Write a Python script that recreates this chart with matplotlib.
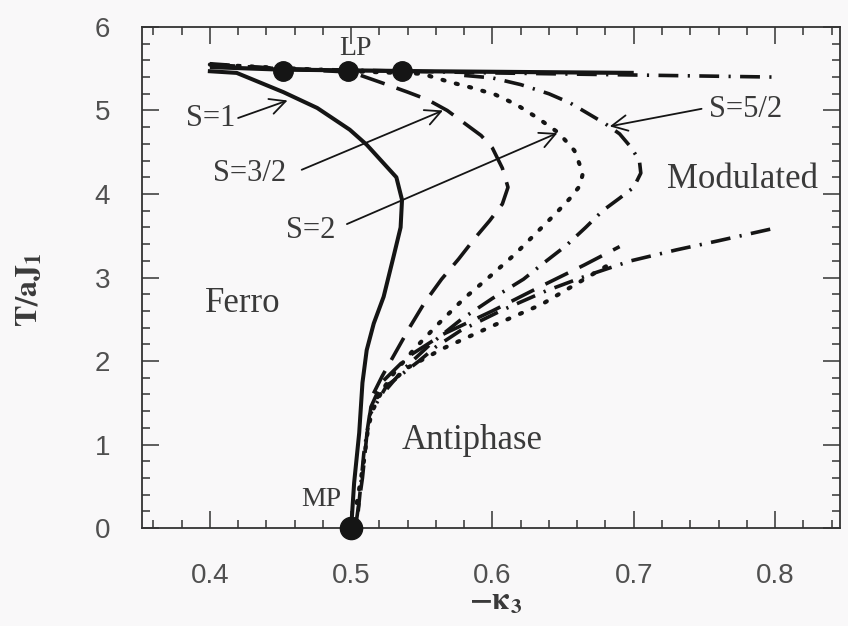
import matplotlib
matplotlib.use("Agg")
import matplotlib.pyplot as plt
from matplotlib.ticker import MultipleLocator

plt.rcParams['mathtext.fontset'] = 'stix'

# phase boundaries, T/aJ1 against -kappa3
s1_x = [0.400, 0.419, 0.452, 0.476, 0.499, 0.511, 0.532, 0.536, 0.535, 0.530,
        0.523, 0.516, 0.511, 0.508, 0.5057, 0.5021, 0.500]
s1_T = [5.47, 5.45, 5.22, 5.03, 4.77, 4.59, 4.20, 3.93, 3.60, 3.25,
        2.77, 2.45, 2.13, 1.74, 1.14, 0.54, 0.0]

top_solid_x = [0.40, 0.45, 0.55, 0.70]
top_solid_T = [5.52, 5.49, 5.47, 5.45]
top_dd_x = [0.40, 0.45, 0.60, 0.80]
top_dd_T = [5.56, 5.50, 5.45, 5.40]

s32_up_x = [0.40, 0.45, 0.50, 0.522, 0.54, 0.554, 0.568, 0.58, 0.592, 0.60, 0.607, 0.611,
            0.607, 0.598, 0.588, 0.576, 0.564, 0.552, 0.542, 0.532, 0.522, 0.514]
s32_up_T = [5.55, 5.5, 5.46, 5.33, 5.22, 5.13, 5.0, 4.85, 4.7, 4.55, 4.31, 4.08,
            3.88, 3.68, 3.48, 3.22, 2.98, 2.7, 2.42, 2.12, 1.82, 1.55]
s32_lo_x = [0.503, 0.508, 0.511, 0.514, 0.522, 0.54, 0.565, 0.60, 0.635, 0.665, 0.69]
s32_lo_T = [0.0, 0.6, 1.1, 1.45, 1.75, 2.05, 2.32, 2.6, 2.9, 3.15, 3.37]

s2_up_x = [0.40, 0.50, 0.55, 0.570, 0.586, 0.602, 0.617, 0.632, 0.647, 0.658, 0.664, 0.662,
           0.655, 0.645, 0.632, 0.616, 0.598, 0.58, 0.562, 0.545, 0.53, 0.518]
s2_up_T = [5.55, 5.47, 5.44, 5.34, 5.27, 5.19, 5.07, 4.91, 4.73, 4.52, 4.25, 4.1,
           3.95, 3.77, 3.55, 3.28, 3.01, 2.75, 2.45, 2.15, 1.85, 1.55]
s2_lo_x = [0.504, 0.509, 0.512, 0.515, 0.522, 0.54, 0.565, 0.60, 0.635, 0.66, 0.685]
s2_lo_T = [0.3, 0.8, 1.2, 1.4, 1.65, 1.92, 2.15, 2.42, 2.68, 2.93, 3.18]

s52_up_x = [0.58, 0.60, 0.62, 0.64, 0.655, 0.668, 0.68, 0.69, 0.698, 0.704, 0.705, 0.70,
            0.69, 0.678, 0.666, 0.652, 0.636, 0.622, 0.60, 0.578, 0.556, 0.537, 0.522]
s52_up_T = [5.42, 5.39, 5.31, 5.2, 5.09, 4.96, 4.84, 4.72, 4.56, 4.4, 4.25, 4.08,
            3.95, 3.8, 3.6, 3.38, 3.17, 2.98, 2.75, 2.5, 2.2, 1.9, 1.6]
s52_lo_x = [0.505, 0.509, 0.513, 0.525, 0.548, 0.56, 0.577, 0.607, 0.638, 0.668,
            0.698, 0.73, 0.76, 0.797]
s52_lo_T = [0.2, 0.9, 1.35, 1.7, 2.0, 2.17, 2.36, 2.61, 2.84, 3.03,
            3.2, 3.33, 3.44, 3.58]

lp_x = [0.452, 0.498, 0.536]
lp_T = [5.47, 5.47, 5.47]
mp_x, mp_T = 0.5, 0.0

# spin labels: text position, arrow tip, arrow tail
spin_labels = ["S=1", "S=3/2", "S=2", "S=5/2"]
label_pos = [(0.4007, 4.90), (0.428, 4.24), (0.4715, 3.56), (0.779, 5.01)]
arrow_tip = [(0.455, 5.12), (0.565, 5.0), (0.646, 4.73), (0.683, 4.81)]
arrow_tail = [(0.420, 4.91), (0.465, 4.29), (0.497, 3.64), (0.748, 5.02)]

phase_names = ["Ferro", "Modulated", "Antiphase"]
phase_pos = [(0.4234, 2.69), (0.777, 4.17), (0.5855, 1.05)]

ink = '#151515'
txt = '#3a3a3a'
bg = '#f9f8f9'

fig = plt.figure(figsize=(8.48, 6.26), dpi=100, facecolor=bg)
ax = fig.add_axes([0.1675, 0.1565, 0.8231, 0.8004], facecolor=bg)

lw = 2.6
long_dash = (0, (7, 3.5))
dots = (0, (0.5, 2.8))
dash_dot = (0, (5.5, 2.6, 0.6, 2.6))

ax.plot(top_dd_x, top_dd_T, color=ink, lw=lw, ls=dash_dot)
ax.plot(top_solid_x, top_solid_T, color=ink, lw=lw + 0.4, solid_capstyle='butt')
ax.plot(s1_x, s1_T, color=ink, lw=lw + 0.3)
ax.plot(s32_up_x, s32_up_T, color=ink, lw=lw, ls=long_dash)
ax.plot(s32_lo_x, s32_lo_T, color=ink, lw=lw, ls=long_dash)
ax.plot(s2_up_x, s2_up_T, color=ink, lw=lw + 0.4, ls=dots, dash_capstyle='round')
ax.plot(s2_lo_x, s2_lo_T, color=ink, lw=lw + 0.4, ls=dots, dash_capstyle='round')
ax.plot(s52_up_x, s52_up_T, color=ink, lw=lw, ls=dash_dot)
ax.plot(s52_lo_x, s52_lo_T, color=ink, lw=lw, ls=dash_dot)

ax.plot(lp_x, lp_T, 'o', color=ink, ms=14, ls='none')
ax.plot([mp_x], [mp_T], 'o', color=ink, ms=16, clip_on=False, zorder=5)

serif = 'Liberation Serif'
ax.text(0.5027, 5.74, "LP", family=serif, fontsize=20, color=txt, ha='center', va='center')
ax.text(0.479, 0.34, "MP", family=serif, fontsize=20, color=txt, ha='center', va='center')

for name, (px, py) in zip(phase_names, phase_pos):
    ax.text(px, py, name, family=serif, fontsize=25, color=txt, ha='center', va='center')

for lab, pos, tip, tail in zip(spin_labels, label_pos, arrow_tip, arrow_tail):
    ax.text(pos[0], pos[1], lab, family=serif, fontsize=22, color=txt,
            ha='center', va='center')
    ax.annotate("", xy=tip, xytext=tail,
                arrowprops=dict(arrowstyle='->', color=ink, lw=1.3,
                                mutation_scale=28, shrinkA=0, shrinkB=0))

ax.set_xlim(0.352, 0.846)
ax.set_ylim(0, 6)
ax.xaxis.set_minor_locator(MultipleLocator(0.02))
ax.yaxis.set_minor_locator(MultipleLocator(0.2))
ax.set_xticks([0.4, 0.5, 0.6, 0.7, 0.8])
ax.set_xticklabels(["0.4", "0.5", "0.6", "0.7", "0.8"], family='Liberation Sans',
                   fontsize=20, color='#505050')
ax.set_yticks(range(7))
ax.set_yticklabels([str(v) for v in range(7)], family='Liberation Sans',
                   fontsize=20, color='#505050')
ax.tick_params(which='both', direction='in', top=True, right=True,
               color='#333333', width=1.1)
ax.tick_params(which='major', length=12)
ax.tick_params(which='minor', length=6)
ax.tick_params(axis='x', which='major', pad=25)
ax.tick_params(axis='y', which='major', pad=23)

for sp in ax.spines.values():
    sp.set_color('#333333')
    sp.set_linewidth(1.3)

ax.set_ylabel(r'$\mathbf{T/aJ_1}$', fontsize=23, color=txt)
ax.yaxis.set_label_coords(-0.14, 0.475)
ax.set_xlabel(r'$\mathbf{-\kappa_3}$', fontsize=22, color=txt)
ax.xaxis.set_label_coords(0.506, -0.118)

fig.savefig("out.png", dpi=100, facecolor=bg)
